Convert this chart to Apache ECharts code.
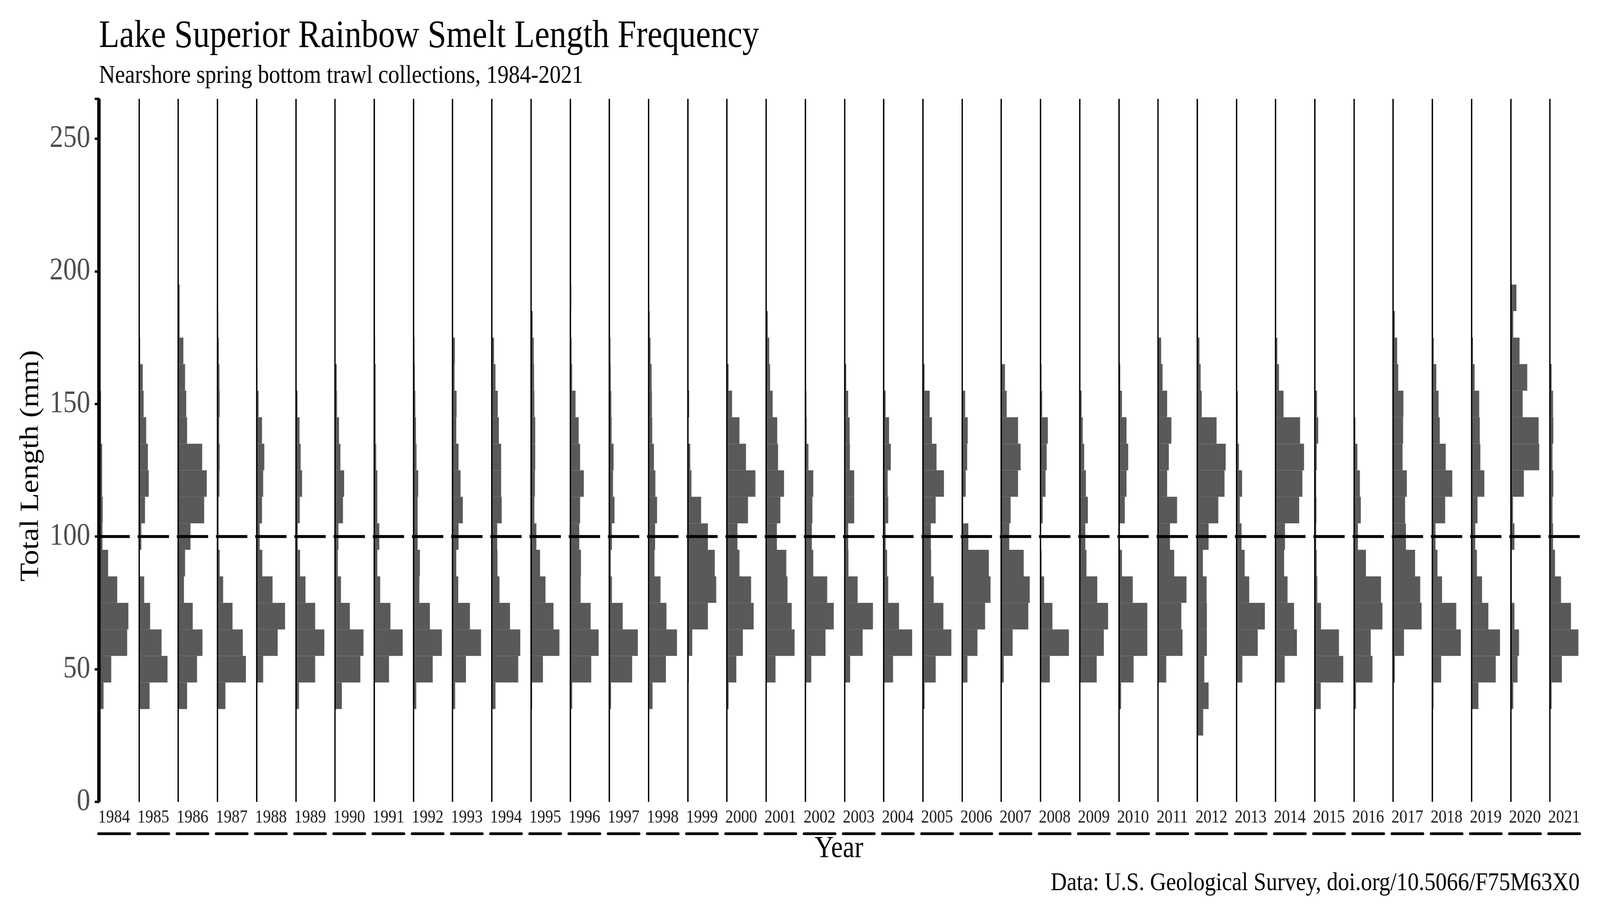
<!DOCTYPE html>
<html>
<head>
<meta charset="utf-8">
<script src="https://cdn.jsdelivr.net/npm/echarts@6/dist/echarts.min.js"></script>
<style>
  html, body { margin: 0; padding: 0; background: #fff; overflow: hidden; }
  #chart { width: 4724px; height: 2362px; transform-origin: 0 0; }
</style>
</head>
<body>
<div id="chart"></div>
<script>
// years shown as facets, left to right
const years = [1984, 1985, 1986, 1987, 1988, 1989, 1990, 1991, 1992, 1993,
    1994, 1995, 1996, 1997, 1998, 1999, 2000, 2001, 2002, 2003,
    2004, 2005, 2006, 2007, 2008, 2009, 2010, 2011, 2012, 2013,
    2014, 2015, 2016, 2017, 2018, 2019, 2020, 2021];

// lower edge of each 10 mm length bin
const binLower = [25, 35, 45, 55, 65, 75, 85, 95, 105, 115, 125, 135, 145, 155, 165, 175, 185];
const binWidth = 10;

// relative frequency per bin (% of the year's largest bin)
const f1984 = [0, 13, 40, 96, 100, 61, 29, 9, 10, 8, 8, 4, 4, 0, 0, 0, 0];
const f1985 = [0, 37, 100, 79, 39, 18, 2, 8, 21, 34, 31, 25, 16, 13, 4, 0, 3];
const f1986 = [0, 31, 66, 85, 51, 20, 24, 43, 91, 100, 84, 31, 28, 24, 18, 5, 5];
const f1987 = [0, 28, 100, 89, 53, 20, 8, 4, 4, 7, 8, 6, 8, 7, 5, 3, 0];
const f1988 = [0, 0, 23, 74, 100, 56, 20, 11, 19, 23, 27, 19, 7, 3, 0, 0, 0];
const f1989 = [0, 11, 68, 100, 68, 34, 15, 7, 14, 22, 17, 13, 6, 3, 0, 0, 0];
const f1990 = [0, 24, 89, 100, 52, 21, 10, 12, 28, 32, 19, 14, 7, 6, 0, 0, 0];
const f1991 = [0, 0, 52, 100, 57, 21, 11, 18, 11, 11, 7, 5, 5, 5, 3, 0, 0];
const f1992 = [0, 10, 68, 100, 58, 21, 23, 15, 15, 17, 11, 9, 7, 5, 4, 3, 0];
const f1993 = [0, 9, 47, 100, 61, 20, 13, 21, 36, 28, 21, 13, 14, 7, 8, 0, 0];
const f1994 = [0, 13, 93, 100, 64, 27, 20, 19, 35, 33, 33, 25, 21, 13, 8, 0, 0];
const f1995 = [0, 4, 42, 100, 79, 51, 32, 19, 12, 14, 15, 15, 12, 11, 10, 6, 0];
const f1996 = [0, 7, 74, 100, 72, 37, 38, 32, 35, 48, 35, 30, 19, 7, 5, 0, 4];
const f1997 = [0, 6, 80, 100, 47, 9, 5, 9, 18, 13, 15, 8, 7, 5, 4, 0, 0];
const f1998 = [0, 14, 61, 100, 63, 42, 21, 23, 30, 24, 19, 13, 12, 11, 7, 4, 0];
const f1999 = [0, 0, 4, 16, 71, 100, 95, 71, 47, 13, 9, 0, 5, 0, 0, 0, 0];
const f2000 = [0, 6, 33, 56, 94, 85, 44, 37, 74, 100, 67, 44, 18, 6, 0, 0, 0];
const f2001 = [0, 0, 33, 100, 90, 75, 71, 38, 50, 63, 42, 39, 23, 14, 11, 6, 0];
const f2002 = [0, 0, 21, 71, 100, 77, 28, 23, 25, 28, 11, 5, 4, 0, 0, 0, 0];
const f2003 = [0, 0, 20, 64, 100, 46, 14, 13, 34, 34, 19, 18, 13, 6, 0, 0, 0];
const f2004 = [0, 0, 33, 100, 54, 16, 12, 7, 16, 14, 25, 19, 7, 0, 0, 0, 0];
const f2005 = [0, 6, 45, 100, 72, 38, 29, 28, 45, 74, 48, 32, 24, 6, 0, 0, 0];
const f2006 = [0, 0, 19, 54, 81, 100, 94, 22, 4, 13, 18, 20, 11, 0, 0, 0, 0];
const f2007 = [0, 0, 9, 40, 95, 100, 79, 28, 33, 59, 68, 59, 19, 13, 0, 0, 0];
const f2008 = [0, 0, 33, 100, 42, 13, 4, 1, 8, 18, 22, 26, 6, 4, 0, 0, 0];
const f2009 = [0, 0, 60, 85, 100, 62, 24, 20, 29, 22, 16, 11, 7, 0, 0, 0, 0];
const f2010 = [0, 8, 52, 100, 100, 49, 11, 4, 21, 27, 33, 27, 11, 5, 0, 0, 0];
const f2011 = [0, 0, 29, 86, 82, 100, 57, 42, 67, 32, 38, 47, 32, 16, 11, 0, 0];
const f2012 = [21, 40, 25, 34, 34, 33, 20, 40, 74, 96, 100, 68, 16, 12, 8, 3, 0];
const f2013 = [0, 0, 21, 75, 100, 45, 29, 18, 12, 20, 9, 5, 5, 1, 3, 3, 0];
const f2014 = [0, 0, 32, 75, 65, 42, 30, 33, 83, 94, 100, 86, 28, 12, 6, 0, 0];
const f2015 = [0, 21, 100, 85, 22, 9, 7, 5, 6, 5, 7, 12, 8, 0, 0, 0, 0];
const f2016 = [0, 7, 65, 59, 100, 95, 42, 14, 24, 21, 12, 5, 0, 0, 0, 0, 0];
const f2017 = [0, 0, 6, 38, 100, 95, 77, 45, 42, 48, 33, 35, 36, 18, 14, 6, 0];
const f2018 = [0, 4, 31, 100, 84, 34, 18, 11, 45, 70, 47, 26, 22, 14, 5, 0, 0];
const f2019 = [0, 24, 85, 100, 59, 37, 19, 13, 21, 45, 31, 29, 27, 11, 5, 0, 0];
const f2020 = [0, 9, 24, 29, 13, 4, 4, 13, 8, 46, 100, 98, 42, 58, 31, 9, 20];
const f2021 = [0, 6, 42, 100, 74, 39, 18, 11, 9, 12, 9, 12, 11, 6, 0, 0, 0];

const freqByYear = [f1984, f1985, f1986, f1987, f1988, f1989, f1990, f1991, f1992, f1993,
    f1994, f1995, f1996, f1997, f1998, f1999, f2000, f2001, f2002, f2003,
    f2004, f2005, f2006, f2007, f2008, f2009, f2010, f2011, f2012, f2013,
    f2014, f2015, f2016, f2017, f2018, f2019, f2020, f2021];

const yTicks = [0, 50, 100, 150, 200, 250];
const refLength = 100;

// the chart is laid out on a 4724 x 2362 canvas; fit that into the window
const el = document.getElementById('chart');
el.style.transform = `scale(${window.innerWidth / 4724}, ${window.innerHeight / 2362})`;

const chart = echarts.init(el);

const serif = '"Liberation Serif", "Times New Roman", serif';
const panelLeft = 290.6;
const panelStep = 115.71;
const panelWidth = 92.5;
const panelTop = 253;
const panelHeight = 1799;

function renderBin(params, api) {
    const v = api.value(0);
    if (!v) return null;
    const topLeft = api.coord([0, api.value(2)]);
    const bottomRight = api.coord([v, api.value(1)]);
    return {
        type: 'rect',
        shape: {
            x: topLeft[0],
            y: topLeft[1],
            width: bottomRight[0] - topLeft[0],
            height: bottomRight[1] - topLeft[1]
        },
        style: { fill: '#595959' }
    };
}

const grids = [], xAxes = [], yAxes = [], series = [];

years.forEach((year, i) => {
    grids.push({
        left: panelLeft + i * panelStep,
        top: panelTop,
        width: panelWidth,
        height: panelHeight
    });

    // strip label (year)
    xAxes.push({
        gridIndex: i, type: 'value', min: -5, max: 105, position: 'bottom',
        axisLine: { show: false, onZero: false },
        axisTick: { show: false }, axisLabel: { show: false }, splitLine: { show: false },
        name: String(year), nameLocation: 'middle', nameGap: 17,
        nameTextStyle: { fontFamily: serif, fontSize: 47, color: '#1a1a1a' }
    });
    // strip underline
    xAxes.push({
        gridIndex: i, type: 'value', min: -5, max: 105, position: 'bottom', offset: 81,
        axisLine: { show: true, onZero: false, lineStyle: { color: '#000', width: 7 } },
        axisTick: { show: false }, axisLabel: { show: false }, splitLine: { show: false }
    });

    yAxes.push({
        gridIndex: i, type: 'value', min: 0, max: 265, interval: 50,
        show: i === 0,
        axisLine: { show: true, onZero: false, lineStyle: { color: '#000', width: 7 } },
        axisTick: { show: true, length: 11, lineStyle: { color: '#000', width: 6 } },
        axisLabel: {
            fontFamily: serif, fontSize: 80, color: '#4d4d4d', margin: 24,
            formatter: v => (yTicks.indexOf(v) >= 0 ? String(v) : '')
        },
        splitLine: { show: false }
    });

    series.push({
        type: 'custom',
        xAxisIndex: 2 * i,
        yAxisIndex: i,
        silent: true,
        renderItem: renderBin,
        encode: { x: 0, y: [1, 2] },
        data: freqByYear[i].map((f, k) => [f, binLower[k], binLower[k] + binWidth]),
        markLine: {
            silent: true,
            symbol: ['none', 'none'],
            label: { show: false },
            animation: false,
            data: [
                { xAxis: 0, lineStyle: { color: '#000', width: 4, type: 'solid' } },
                { yAxis: refLength, lineStyle: { color: '#000', width: 7.5, type: 'solid' } }
            ]
        }
    });
});

chart.setOption({
    animation: false,
    backgroundColor: '#fff',
    title: [
        {
            text: 'Lake Superior Rainbow Smelt Length Frequency',
            left: 292, top: 44, padding: 0,
            textStyle: { fontFamily: serif, fontSize: 99, fontWeight: 'normal', color: '#000' }
        },
        {
            text: 'Nearshore spring bottom trawl collections, 1984-2021',
            left: 292, top: 162, padding: 0,
            textStyle: { fontFamily: serif, fontSize: 66, fontWeight: 'normal', color: '#000' }
        },
        {
            text: 'Data: U.S. Geological Survey, doi.org/10.5066/F75M63X0',
            right: 60, top: 2228, padding: 0,
            textStyle: { fontFamily: serif, fontSize: 66, fontWeight: 'normal', color: '#000' }
        }
    ],
    grid: grids,
    xAxis: xAxes,
    yAxis: yAxes,
    series: series,
    graphic: [
        {
            type: 'text', x: 2477, y: 2173,
            style: {
                text: 'Year', fontFamily: serif, fontSize: 78, fill: '#000',
                align: 'center', verticalAlign: 'middle'
            }
        },
        {
            type: 'text', x: 92, y: 1192, rotation: Math.PI / 2,
            style: {
                text: 'Total Length (mm)', fontFamily: serif, fontSize: 78, fill: '#000',
                align: 'center', verticalAlign: 'middle'
            }
        }
    ]
});
</script>
</body>
</html>
